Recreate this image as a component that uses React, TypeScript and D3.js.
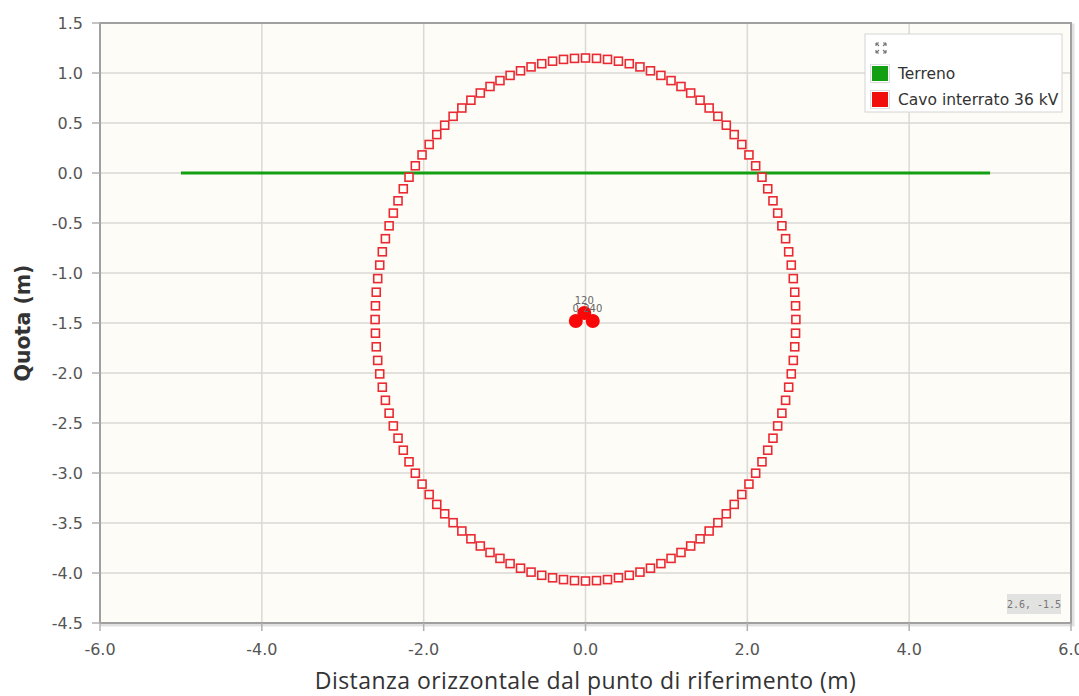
import React from "react";
import * as d3 from "d3";

const X_TICKS = [-6, -4, -2, 0, 2, 4, 6];
const Y_TICKS = [1.5, 1.0, 0.5, 0.0, -0.5, -1.0, -1.5, -2.0, -2.5, -3.0, -3.5, -4.0, -4.5];

const TERRENO_X = [-5, 5];
const TERRENO_Y = [0, 0];

// limit curve
const LIMIT_X = [
  2.6, 2.596, 2.586, 2.568, 2.543, 2.511, 2.473, 2.427, 2.375, 2.317, 2.252, 2.181, 2.103, 2.02, 1.932,
  1.838, 1.74, 1.636, 1.528, 1.416, 1.3, 1.18, 1.057, 0.932, 0.803, 0.673, 0.541, 0.407, 0.272, 0.136,
  0, -0.136, -0.272, -0.407, -0.541, -0.673, -0.803, -0.932, -1.057, -1.18, -1.3, -1.416, -1.528, -1.636, -1.74,
  -1.838, -1.932, -2.02, -2.103, -2.181, -2.252, -2.317, -2.375, -2.427, -2.473, -2.511, -2.543, -2.568, -2.586, -2.596,
  -2.6, -2.596, -2.586, -2.568, -2.543, -2.511, -2.473, -2.427, -2.375, -2.317, -2.252, -2.181, -2.103, -2.02, -1.932,
  -1.838, -1.74, -1.636, -1.528, -1.416, -1.3, -1.18, -1.057, -0.932, -0.803, -0.673, -0.541, -0.407, -0.272, -0.136,
  0, 0.136, 0.272, 0.407, 0.541, 0.673, 0.803, 0.932, 1.057, 1.18, 1.3, 1.416, 1.528, 1.636, 1.74,
  1.838, 1.932, 2.02, 2.103, 2.181, 2.252, 2.317, 2.375, 2.427, 2.473, 2.511, 2.543, 2.568, 2.586, 2.596,
];
const LIMIT_Y = [
  -1.465, -1.328, -1.192, -1.056, -0.921, -0.788, -0.657, -0.528, -0.401, -0.278, -0.158, -0.042, 0.072, 0.181, 0.285,
  0.384, 0.478, 0.567, 0.650, 0.728, 0.800, 0.865, 0.924, 0.976, 1.022, 1.061, 1.093, 1.118, 1.136, 1.146,
  1.150, 1.146, 1.136, 1.118, 1.093, 1.061, 1.022, 0.976, 0.924, 0.865, 0.800, 0.728, 0.650, 0.567, 0.478,
  0.384, 0.285, 0.181, 0.072, -0.042, -0.158, -0.278, -0.401, -0.528, -0.657, -0.788, -0.921, -1.056, -1.192, -1.328,
  -1.465, -1.602, -1.738, -1.874, -2.009, -2.142, -2.273, -2.402, -2.529, -2.652, -2.772, -2.888, -3.002, -3.111, -3.215,
  -3.314, -3.408, -3.497, -3.580, -3.658, -3.730, -3.795, -3.854, -3.906, -3.952, -3.991, -4.023, -4.048, -4.066, -4.076,
  -4.080, -4.076, -4.066, -4.048, -4.023, -3.991, -3.952, -3.906, -3.854, -3.795, -3.730, -3.658, -3.580, -3.497, -3.408,
  -3.314, -3.215, -3.111, -3.002, -2.888, -2.772, -2.652, -2.529, -2.402, -2.273, -2.142, -2.009, -1.874, -1.738, -1.602,
];

const CABLE_X = [-0.12, -0.015, 0.09];
const CABLE_Y = [-1.48, -1.4, -1.48];
const CABLE_LABELS = ["0", "120", "240"];

const LEGEND = [
  { name: "Terreno", color: "#12a012" },
  { name: "Cavo interrato 36 kV", color: "#f20d0d" },
];

const X_TITLE = "Distanza orizzontale dal punto di riferimento (m)";
const Y_TITLE = "Quota (m)";
const COORD_TEXT = "2.6, -1.5";

const W = 1079;
const H = 696;
const FONT = "'DejaVu Sans', 'Noto Sans', sans-serif";

export default function App() {
  const left = 100, right = 1071, top = 23, bottom = 623;
  const x = d3.scaleLinear().domain([-6, 6]).range([left, right]);
  const y = d3.scaleLinear().domain([1.5, -4.5]).range([top, bottom]);
  const line = d3.line<number>().x((_, i) => x(TERRENO_X[i])).y((_, i) => y(TERRENO_Y[i]));
  const sq = 8;

  return (
    <svg
      width={W}
      height={H}
      style={{ position: "absolute", left: 0, top: 0, background: "#fff" }}
      fontFamily={FONT}
    >
      <defs>
        <clipPath id="plotclip">
          <rect x={left} y={top} width={right - left} height={bottom - top} />
        </clipPath>
      </defs>
      {/* shadow */}
      <rect x={left + 2} y={top + 2} width={right - left} height={bottom - top} fill="none" stroke="#000" strokeOpacity={0.12} strokeWidth={3} />
      <rect x={left} y={top} width={right - left} height={bottom - top} fill="#fdfcf6" />
      {/* grid */}
      {X_TICKS.slice(1, -1).map((t) => (
        <line key={"gx" + t} x1={x(t)} x2={x(t)} y1={top} y2={bottom} stroke="#d9d9d6" strokeWidth={1.5} />
      ))}
      {Y_TICKS.slice(1, -1).map((t) => (
        <line key={"gy" + t} x1={left} x2={right} y1={y(t)} y2={y(t)} stroke="#d9d9d6" strokeWidth={1.5} />
      ))}
      {/* frame */}
      <rect x={left} y={top} width={right - left} height={bottom - top} fill="none" stroke="#a0a0a0" strokeWidth={2} />
      {/* ticks */}
      {Y_TICKS.map((t) => (
        <g key={"ty" + t}>
          <line x1={left - 8} x2={left} y1={y(t)} y2={y(t)} stroke="#b0b0b0" strokeWidth={1.5} />
          <text x={left - 17} y={y(t)} dy="0.36em" textAnchor="end" fontSize={16} fill="#555">
            {t.toFixed(1)}
          </text>
        </g>
      ))}
      {X_TICKS.map((t) => (
        <g key={"tx" + t}>
          <line x1={x(t)} x2={x(t)} y1={bottom} y2={bottom + 8} stroke="#b0b0b0" strokeWidth={1.5} />
          <text x={x(t)} y={bottom + 32} textAnchor="middle" fontSize={16} fill="#555">
            {t.toFixed(1)}
          </text>
        </g>
      ))}
      {/* titles */}
      <text
        x={(left + right) / 2}
        y={689}
        textAnchor="middle"
        fontSize={23}
        letterSpacing={0.45}
        fill="#333"
        fontFamily="'Open Sans', 'Noto Sans', sans-serif"
      >
        {X_TITLE}
      </text>
      <text
        transform={`translate(30, ${(top + bottom) / 2}) rotate(-90)`}
        textAnchor="middle"
        fontSize={20.5}
        fontWeight={600}
        fill="#333"
      >
        {Y_TITLE}
      </text>
      <g clipPath="url(#plotclip)">
        <path d={line(TERRENO_X) || ""} stroke="#12a012" strokeWidth={3} fill="none" />
        {LIMIT_X.map((lx, i) => (
          <rect
            key={"p" + i}
            x={x(lx) - sq / 2}
            y={y(LIMIT_Y[i]) - sq / 2}
            width={sq}
            height={sq}
            fill="#fffdf8"
            stroke="#ea2a32"
            strokeWidth={1.6}
          />
        ))}
        {CABLE_X.map((cx, i) => (
          <circle key={"c" + i} cx={x(cx)} cy={y(CABLE_Y[i])} r={7} fill="#f80808" />
        ))}
        {CABLE_X.map((cx, i) => (
          <text key={"cl" + i} x={x(cx)} y={y(CABLE_Y[i]) - 9} textAnchor="middle" fontSize={10} fill="#666">
            {CABLE_LABELS[i]}
          </text>
        ))}
      </g>
      {/* legend */}
      <rect x={865} y={34} width={197} height={78} fill="#ffffff" stroke="#d4d4d4" strokeWidth={1} />
      <g stroke="#777" strokeWidth={1.2} fill="none">
        <path d="M876 43 l3 3 M876 43 h3 M876 43 v3" />
        <path d="M886 43 l-3 3 M886 43 h-3 M886 43 v3" />
        <path d="M876 53 l3 -3 M876 53 h3 M876 53 v-3" />
        <path d="M886 53 l-3 -3 M886 53 h-3 M886 53 v-3" />
      </g>
      {LEGEND.map((l, i) => (
        <g key={l.name} transform={`translate(0, ${i * 26})`}>
          <rect x={870.5} y={64.5} width={19} height={18} fill="#fff" stroke="#ddd" />
          <rect x={872} y={66} width={16} height={15} fill={l.color} />
          <text x={898} y={79} fontSize={15.5} fill="#333">
            {l.name}
          </text>
        </g>
      ))}
      {/* coordinate box */}
      <rect x={1007} y={594} width={54} height={20} fill="#e2e2e0" />
      <text x={1034} y={608} textAnchor="middle" fontSize={10} fill="#777" fontFamily="'DejaVu Sans Mono', monospace">
        {COORD_TEXT}
      </text>
    </svg>
  );
}
